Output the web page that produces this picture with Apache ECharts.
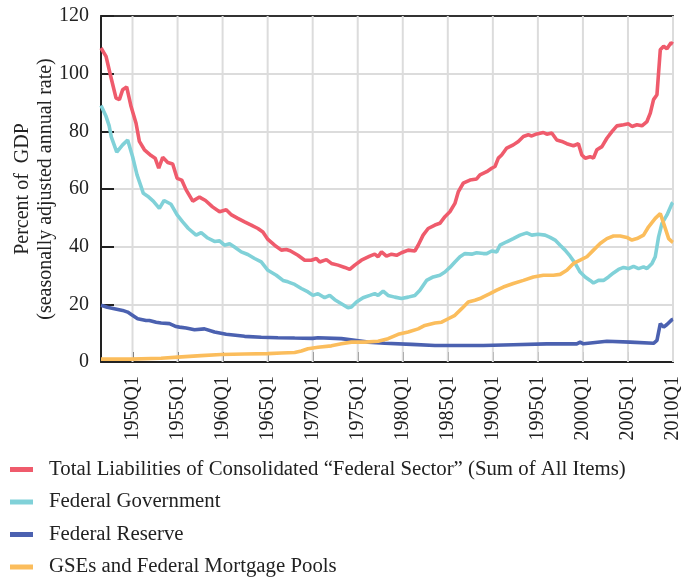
<!DOCTYPE html>
<html>
<head>
<meta charset="utf-8">
<script src="https://cdn.jsdelivr.net/npm/echarts@6/dist/echarts.min.js"></script>
<style>html,body{margin:0;padding:0;background:#fff}#c{width:682px;height:580px}</style>
</head>
<body>
<div id="c"></div>
<script>
// x = year + (quarter-1)/4
const seriesNames = [
  'Total Liabilities of Consolidated \u201cFederal Sector\u201d (Sum of All Items)',
  'Federal Government',
  'Federal Reserve',
  'GSEs and Federal Mortgage Pools'
];
const tickYears = [1950, 1955, 1960, 1965, 1970, 1975, 1980, 1985, 1990, 1995, 2000, 2005, 2010];

const totalLiabilities = [
  [1946.5,108.9],[1947.06,106.0],[1947.53,99.7],[1948.17,91.5],[1948.54,91.0],[1948.9,94.4],[1949.35,95.4],
  [1949.84,88.6],[1950.39,82.8],[1950.76,76.5],[1951.32,73.6],[1952.06,71.6],[1952.51,70.7],[1952.91,67.2],
  [1953.35,71.0],[1953.91,69.2],[1954.46,68.7],[1954.95,63.7],[1955.46,63.1],[1955.95,59.7],[1956.69,55.8],
  [1957.43,57.2],[1958.1,56.0],[1958.88,53.8],[1959.66,52.1],[1960.4,52.8],[1960.99,51.0],[1961.69,49.8],
  [1962.44,48.6],[1963.18,47.5],[1963.92,46.3],[1964.47,45.1],[1965.03,42.5],[1965.77,40.5],[1966.52,38.8],
  [1967.07,39.0],[1967.5,38.6],[1968.36,37.0],[1969.11,35.3],[1969.85,35.3],[1970.41,35.9],[1970.78,34.7],
  [1971.52,35.5],[1972.08,34.2],[1972.81,33.6],[1973.56,32.8],[1974.11,32.1],[1974.67,33.6],[1975.41,35.3],
  [1976.34,36.7],[1976.89,37.4],[1977.26,36.5],[1977.64,38.2],[1978.19,36.7],[1978.75,37.4],[1979.31,37.0],
  [1979.86,37.9],[1980.6,38.8],[1981.34,38.5],[1981.71,40.5],[1982.26,44.0],[1982.82,46.3],[1983.57,47.5],
  [1984.12,48.1],[1984.68,50.4],[1985.23,52.1],[1985.79,55.0],[1986.16,59.0],[1986.71,62.0],[1987.46,63.1],
  [1988.2,63.5],[1988.57,64.9],[1989.32,66.0],[1989.87,67.2],[1990.24,67.8],[1990.61,70.7],[1990.98,71.8],
  [1991.54,74.2],[1992.27,75.3],[1992.83,76.5],[1993.39,78.2],[1993.94,78.8],[1994.32,78.4],[1994.88,79.1],
  [1995.61,79.6],[1995.99,79.0],[1996.54,79.4],[1997.1,77.0],[1997.66,76.5],[1998.21,75.7],[1998.95,75.0],
  [1999.5,75.7],[1999.88,71.8],[2000.25,70.7],[2000.8,71.2],[2001.17,70.7],[2001.55,73.6],[2002.11,74.7],
  [2002.66,77.6],[2003.22,79.9],[2003.77,81.9],[2004.51,82.3],[2005.06,82.6],[2005.44,81.7],[2006.0,82.3],
  [2006.55,81.9],[2007.11,83.4],[2007.48,86.3],[2007.84,91.0],[2008.22,92.7],[2008.59,108.3],[2008.96,109.5],
  [2009.33,108.6],[2009.78,110.7],[2010.0,110.3]
];

const federalGovernment = [
  [1946.5,89.0],[1947.06,85.2],[1947.4,82.0],[1947.65,78.0],[1948.25,72.8],[1948.9,75.3],[1949.46,77.0],
  [1950.01,71.2],[1950.5,64.9],[1950.95,60.8],[1951.2,58.5],[1951.68,57.5],[1952.3,55.8],[1952.98,53.3],
  [1953.5,56.0],[1954.28,54.7],[1954.95,51.0],[1955.57,48.6],[1956.2,46.3],[1957.06,44.0],[1957.62,44.9],
  [1958.35,43.0],[1959.1,41.8],[1959.66,42.0],[1960.21,40.5],[1960.77,41.0],[1961.32,39.9],[1962.07,38.2],
  [1962.8,37.3],[1963.55,35.9],[1964.29,34.7],[1965.03,31.8],[1965.96,30.1],[1966.7,28.3],[1967.25,27.8],
  [1967.44,28.2],[1968.0,26.9],[1968.74,25.5],[1969.48,24.3],[1970.03,23.1],[1970.59,23.7],[1971.33,22.3],
  [1971.89,23.1],[1972.45,21.6],[1973.19,20.2],[1973.92,18.8],[1974.3,19.1],[1974.86,20.8],[1975.59,22.3],
  [1976.34,23.1],[1976.89,23.7],[1977.26,23.1],[1977.82,24.6],[1978.37,23.1],[1979.12,22.5],[1979.86,22.0],
  [1980.6,22.5],[1981.34,23.1],[1981.9,24.9],[1982.64,28.3],[1983.38,29.5],[1984.12,30.1],[1984.68,31.2],
  [1985.23,32.8],[1985.79,34.7],[1986.35,36.5],[1986.9,37.6],[1987.65,37.4],[1988.2,37.9],[1988.94,37.6],
  [1989.32,37.6],[1989.87,38.5],[1990.43,38.2],[1990.79,40.5],[1991.54,41.7],[1992.27,42.8],[1993.02,44.0],
  [1993.76,44.8],[1994.32,44.0],[1995.05,44.3],[1995.8,44.0],[1996.36,43.2],[1996.91,42.3],[1997.47,40.5],
  [1998.02,38.8],[1998.58,36.7],[1999.14,34.2],[1999.69,31.2],[2000.25,29.5],[2000.8,28.3],[2001.17,27.4],
  [2001.73,28.3],[2002.28,28.3],[2002.84,29.5],[2003.39,30.9],[2003.95,32.1],[2004.51,32.8],[2005.06,32.4],
  [2005.62,33.2],[2006.18,32.4],[2006.73,33.0],[2007.11,32.4],[2007.67,34.2],[2008.03,36.5],[2008.4,43.4],
  [2008.78,48.1],[2009.33,51.0],[2009.89,55.0],[2010.0,55.3]
];

const federalReserve = [
  [1946.5,19.7],[1947.2,19.0],[1947.98,18.5],[1948.9,17.9],[1949.46,17.3],[1949.9,16.4],[1950.57,15.0],
  [1951.5,14.4],[1951.87,14.4],[1952.62,13.8],[1953.17,13.5],[1953.35,13.8],[1954.1,13.3],[1954.84,12.3],
  [1955.21,12.1],[1955.95,11.8],[1956.88,11.2],[1957.99,11.5],[1959.1,10.4],[1960.4,9.6],[1961.69,9.2],
  [1962.44,8.9],[1964.29,8.6],[1966.14,8.4],[1968.0,8.3],[1970.0,8.2],[1970.59,8.4],[1973.19,8.1],
  [1976.15,6.9],[1978.01,6.5],[1980.98,6.1],[1983.57,5.7],[1985.42,5.7],[1988.94,5.7],[1992.27,6.0],
  [1995.99,6.3],[1999.32,6.3],[1999.69,6.9],[2000.06,6.3],[2002.66,7.2],[2005.25,6.9],[2007.84,6.5],
  [2008.22,7.5],[2008.59,13.3],[2008.96,12.1],[2009.33,13.0],[2009.89,14.7],[2010.0,14.8]
];

const gsesMortgagePools = [
  [1946.5,1.0],[1949.84,1.0],[1953.17,1.3],[1955.02,1.7],[1957.62,2.2],[1959.85,2.6],[1962.44,2.8],
  [1965.03,2.9],[1966.52,3.1],[1968.0,3.3],[1968.74,3.8],[1969.48,4.6],[1970.59,5.1],[1972.08,5.6],
  [1973.19,6.3],[1974.3,6.9],[1975.78,6.9],[1977.26,7.2],[1978.37,8.1],[1979.49,9.6],[1980.6,10.4],
  [1981.71,11.5],[1982.45,12.7],[1983.57,13.5],[1984.31,13.8],[1985.05,15.0],[1985.79,16.2],[1986.54,18.5],
  [1987.27,20.8],[1988.01,21.4],[1988.57,22.0],[1988.94,22.6],[1989.68,23.7],[1990.43,24.9],[1991.16,26.0],
  [1992.27,27.2],[1993.39,28.3],[1994.5,29.5],[1995.61,30.1],[1996.72,30.1],[1997.47,30.4],[1998.21,31.8],
  [1998.95,34.2],[1999.69,35.3],[2000.44,36.5],[2001.17,38.8],[2001.91,41.1],[2002.66,42.8],[2003.39,43.7],
  [2004.14,43.7],[2004.88,43.2],[2005.44,42.3],[2006.0,42.8],[2006.73,44.0],[2007.29,46.9],[2008.03,49.8],
  [2008.59,51.5],[2008.96,48.1],[2009.52,42.8],[2009.89,41.7],[2010.0,41.5]
];

const colors = ['#ef5b6c', '#80d1d8', '#4b61b0', '#fbbd5c'];
const FONT = 'Liberation Serif';
const GRID_COLOR = '#dcdcdc';
const AXIS_COLOR = '#222';
const Y_MIN = 0, Y_MAX = 120;

const chart = echarts.init(document.getElementById('c'), null, {renderer: 'canvas'});
const dataSets = [totalLiabilities, federalGovernment, federalReserve, gsesMortgagePools];

const lineSeries = seriesNames.map((name, i) => ({
  name: name,
  type: 'line',
  data: dataSets[i],
  showSymbol: false,
  symbol: 'none',
  z: 3,
  lineStyle: {width: 3.6, color: colors[i]},
  itemStyle: {color: colors[i]}
}));

// vertical grid lines: one two-point line series per tick year, drawn through the axis scales
const gridLineSeries = tickYears.map(yr => ({
  name: 'grid' + yr,
  type: 'line',
  data: [[yr, Y_MIN], [yr, Y_MAX]],
  showSymbol: false,
  symbol: 'none',
  silent: true,
  z: 1,
  legendHoverLink: false,
  tooltip: {show: false},
  emphasis: {disabled: true},
  lineStyle: {width: 2, color: GRID_COLOR},
  itemStyle: {color: GRID_COLOR}
}));

chart.setOption({
  animation: false,
  backgroundColor: '#fff',
  color: colors,
  grid: {left: 101, right: 9, top: 16, bottom: 218, containLabel: false, outerBoundsMode: 'none'},
  legend: {
    orient: 'vertical',
    left: 10,
    top: 459,
    height: 121,
    padding: 0,
    icon: 'rect',
    itemWidth: 23,
    itemHeight: 5,
    itemGap: 11.5,
    textStyle: {fontFamily: FONT, fontSize: 20.8, color: '#222', padding: [0, 0, 0, 11]},
    data: seriesNames
  },
  xAxis: [{
    type: 'value',
    min: 1946.5,
    max: 2010,
    axisLine: {show: true, onZero: false, lineStyle: {color: AXIS_COLOR, width: 2}},
    axisTick: {show: true, inside: true, length: 10, lineStyle: {color: AXIS_COLOR, width: 2}, customValues: tickYears},
    axisLabel: {
      customValues: tickYears,
      rotate: 90,
      margin: 14,
      fontFamily: FONT, fontSize: 20, color: '#222',
      formatter: v => v + 'Q1'
    },
    splitLine: {show: false}
  }, {
    type: 'value',
    position: 'top',
    min: 1946.5,
    max: 2010,
    axisLine: {show: true, onZero: false, lineStyle: {color: '#333', width: 2}},
    axisTick: {show: false},
    axisLabel: {show: false},
    splitLine: {show: false}
  }],
  yAxis: [{
    type: 'value',
    min: Y_MIN, max: Y_MAX, interval: 20,
    name: 'Percent of  GDP\n(seasonally adjusted annual rate)',
    nameLocation: 'middle',
    nameGap: 44,
    nameMoveOverlap: false,
    nameTextStyle: {fontFamily: FONT, fontSize: 20, color: '#222', lineHeight: 23},
    axisLine: {show: true, lineStyle: {color: AXIS_COLOR, width: 2}},
    axisTick: {show: true, inside: true, length: 13, lineStyle: {color: AXIS_COLOR, width: 2}},
    axisLabel: {fontFamily: FONT, fontSize: 20, color: '#222', margin: 12},
    splitLine: {show: true, lineStyle: {color: GRID_COLOR, width: 2}}
  }, {
    type: 'value',
    position: 'right',
    min: Y_MIN, max: Y_MAX, interval: 20,
    axisLine: {show: true, onZero: false, lineStyle: {color: '#333', width: 2}},
    axisTick: {show: false},
    axisLabel: {show: false},
    splitLine: {show: false}
  }],
  series: gridLineSeries.concat(lineSeries)
});
</script>
</body>
</html>
